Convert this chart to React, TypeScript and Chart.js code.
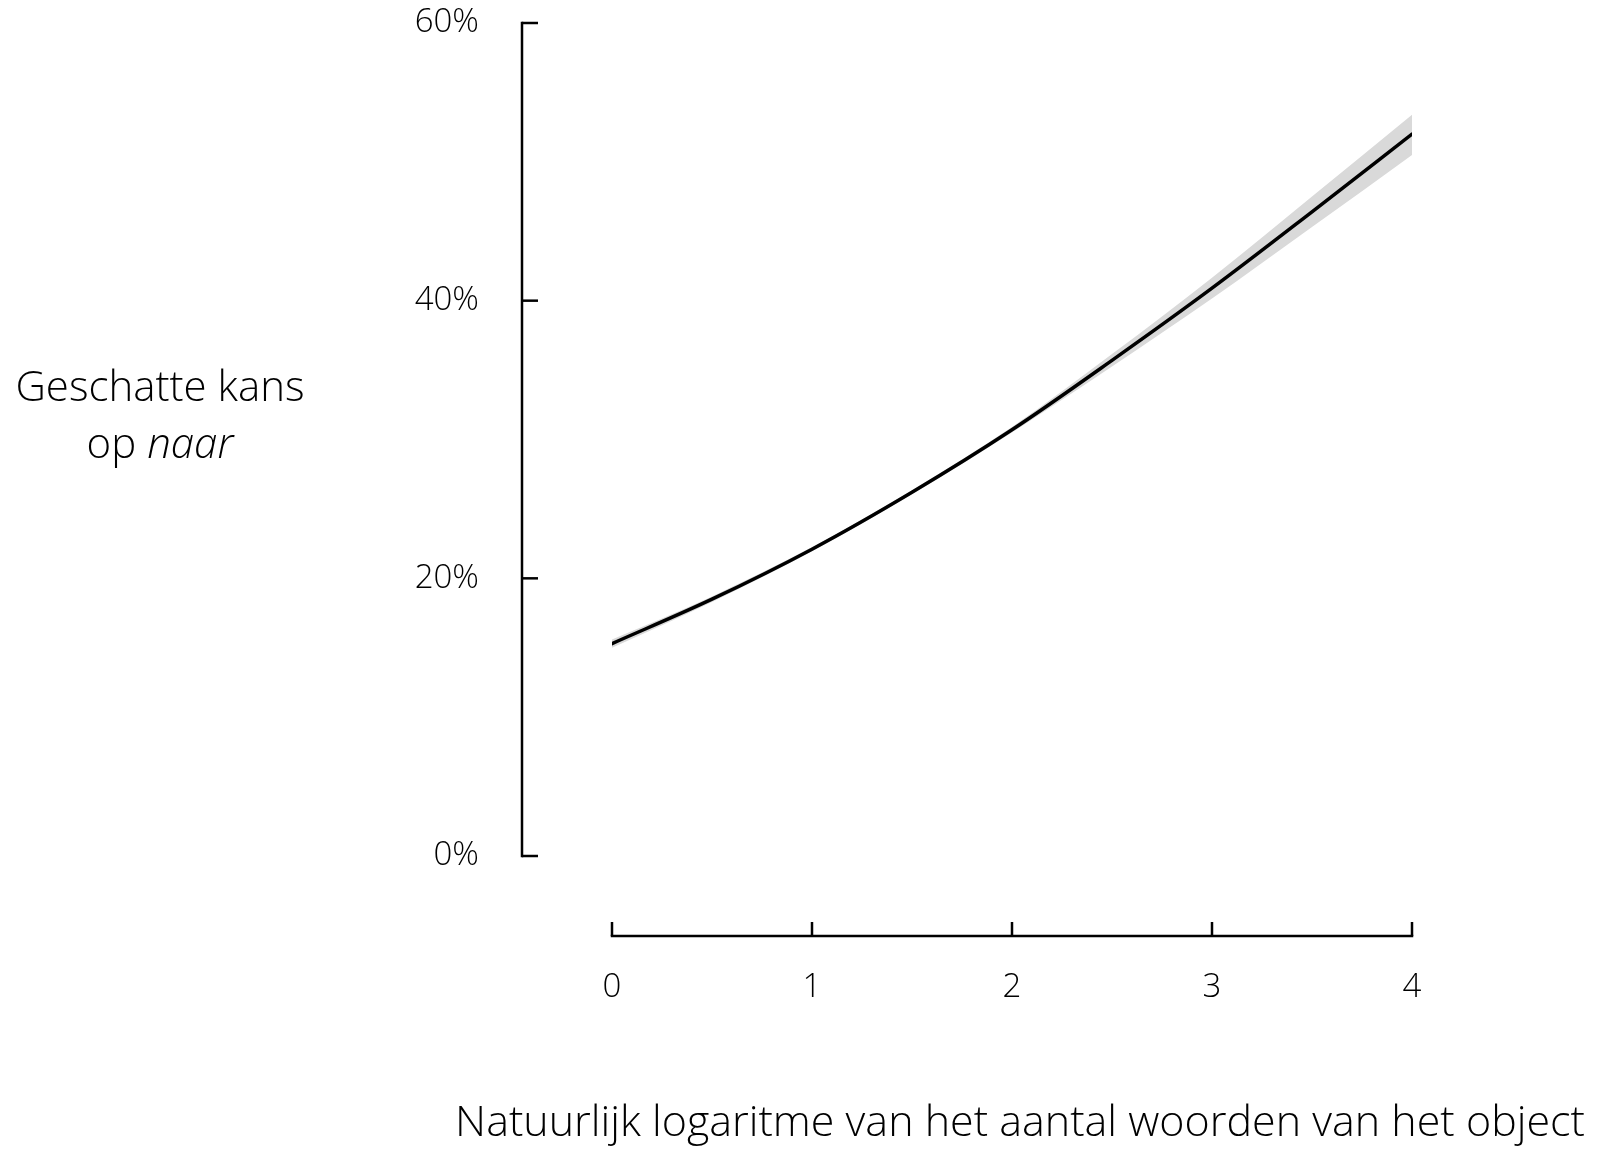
import React, { useEffect, useRef } from "react";
import { Chart, registerables } from "chart.js";

Chart.register(...registerables);

const xValues = [0, 0.5, 1, 1.5, 2, 2.5, 3, 3.5, 4];
const estimate = [15.3, 18.5, 22.1, 26.2, 30.7, 35.7, 40.9, 46.4, 52.0];
const lowerBound = [15.0, 18.3, 21.95, 26.05, 30.5, 35.25, 40.15, 45.3, 50.5];
const upperBound = [15.6, 18.7, 22.25, 26.35, 30.9, 36.15, 41.65, 47.5, 53.4];

const xTicks = [0, 1, 2, 3, 4];
const xTickLabels = ["0", "1", "2", "3", "4"];
const yTicks = [0, 20, 40, 60];
const yTickLabels = ["0%", "20%", "40%", "60%"];

const xTitle = "Natuurlijk logaritme van het aantal woorden van het object";
const yTitleLine1 = "Geschatte kans";
const yTitleLine2Plain = "op ";
const yTitleLine2Italic = "naar";

const FONT = "'Open Sans', 'DejaVu Sans', sans-serif";

const axesPlugin = {
  id: "customAxes",
  afterDraw(chart: any) {
    const ctx = chart.ctx;
    const xs = chart.scales.x;
    const ys = chart.scales.y;
    const area = chart.chartArea;
    ctx.save();
    ctx.strokeStyle = "#000";
    ctx.fillStyle = "#000";
    ctx.lineWidth = 2.5;
    ctx.lineCap = "butt";

    // Y axis
    const yAxisX = area.left - 90;
    const yTop = ys.getPixelForValue(yTicks[yTicks.length - 1]);
    const yBot = ys.getPixelForValue(yTicks[0]);
    ctx.beginPath();
    ctx.moveTo(yAxisX, yTop - 1.25);
    ctx.lineTo(yAxisX, yBot + 1.25);
    ctx.stroke();
    ctx.font = `300 33px ${FONT}`;
    ctx.textAlign = "right";
    ctx.textBaseline = "middle";
    yTicks.forEach((v, i) => {
      const py = ys.getPixelForValue(v);
      ctx.beginPath();
      ctx.moveTo(yAxisX, py);
      ctx.lineTo(yAxisX + 16, py);
      ctx.stroke();
      ctx.fillText(yTickLabels[i], yAxisX - 43, py);
    });

    // X axis
    const xAxisY = area.bottom + 80;
    const xl = xs.getPixelForValue(xTicks[0]);
    const xr = xs.getPixelForValue(xTicks[xTicks.length - 1]);
    ctx.beginPath();
    ctx.moveTo(xl - 1.25, xAxisY);
    ctx.lineTo(xr + 1.25, xAxisY);
    ctx.stroke();
    ctx.textAlign = "center";
    xTicks.forEach((v, i) => {
      const px = xs.getPixelForValue(v);
      ctx.beginPath();
      ctx.moveTo(px, xAxisY);
      ctx.lineTo(px, xAxisY - 14);
      ctx.stroke();
      ctx.fillText(xTickLabels[i], px, xAxisY + 52);
    });

    // X title
    ctx.font = `300 43px ${FONT}`;
    ctx.textAlign = "center";
    ctx.fillText(xTitle, 1020, 1124);

    // Y title
    ctx.font = `300 42px ${FONT}`;
    ctx.fillText(yTitleLine1, 160, 389);
    const wPlain = ctx.measureText(yTitleLine2Plain).width;
    ctx.font = `italic 300 42px ${FONT}`;
    const wItal = ctx.measureText(yTitleLine2Italic).width;
    const startX = 160 - (wPlain + wItal) / 2;
    ctx.textAlign = "left";
    ctx.font = `300 42px ${FONT}`;
    ctx.fillText(yTitleLine2Plain, startX, 446);
    ctx.font = `italic 300 42px ${FONT}`;
    ctx.fillText(yTitleLine2Italic, startX + wPlain, 446);
    ctx.restore();
  },
};

export default function App() {
  const canvasRef = useRef<HTMLCanvasElement | null>(null);

  useEffect(() => {
    if (!canvasRef.current) return;
    const toPts = (arr: number[]) => xValues.map((x, i) => ({ x, y: arr[i] }));
    const chart = new Chart(canvasRef.current, {
      type: "line",
      data: {
        datasets: [
          {
            label: "lower",
            data: toPts(lowerBound),
            borderWidth: 0,
            pointRadius: 0,
            fill: false,
            order: 2,
            cubicInterpolationMode: "monotone",
            borderColor: "rgba(0,0,0,0)",
          },
          {
            label: "upper",
            data: toPts(upperBound),
            borderWidth: 0,
            pointRadius: 0,
            fill: "-1",
            order: 2,
            backgroundColor: "#d9d9d9",
            cubicInterpolationMode: "monotone",
            borderColor: "rgba(0,0,0,0)",
          },
          {
            label: "estimate",
            data: toPts(estimate),
            borderColor: "#000",
            borderWidth: 3.5,
            pointRadius: 0,
            fill: false,
            order: 0,
            borderCapStyle: "round",
            cubicInterpolationMode: "monotone",
          },
        ],
      },
      options: {
        animation: false,
        responsive: false,
        maintainAspectRatio: false,
        layout: { padding: { left: 612, right: 186, top: 23, bottom: 293 } },
        plugins: {
          legend: { display: false },
          tooltip: { enabled: false },
          filler: { propagate: false, drawTime: "beforeDatasetsDraw" },
        },
        scales: {
          x: { type: "linear", min: 0, max: 4, display: false },
          y: { type: "linear", min: 0, max: 60, display: false },
        },
      },
      plugins: [axesPlugin],
    } as any);
    return () => chart.destroy();
  }, []);

  return (
    <div style={{ position: "fixed", left: 0, top: 0, width: 1598, height: 1149, background: "#fff" }}>
      <canvas ref={canvasRef} width={1598} height={1149} style={{ width: 1598, height: 1149 }} />
    </div>
  );
}
